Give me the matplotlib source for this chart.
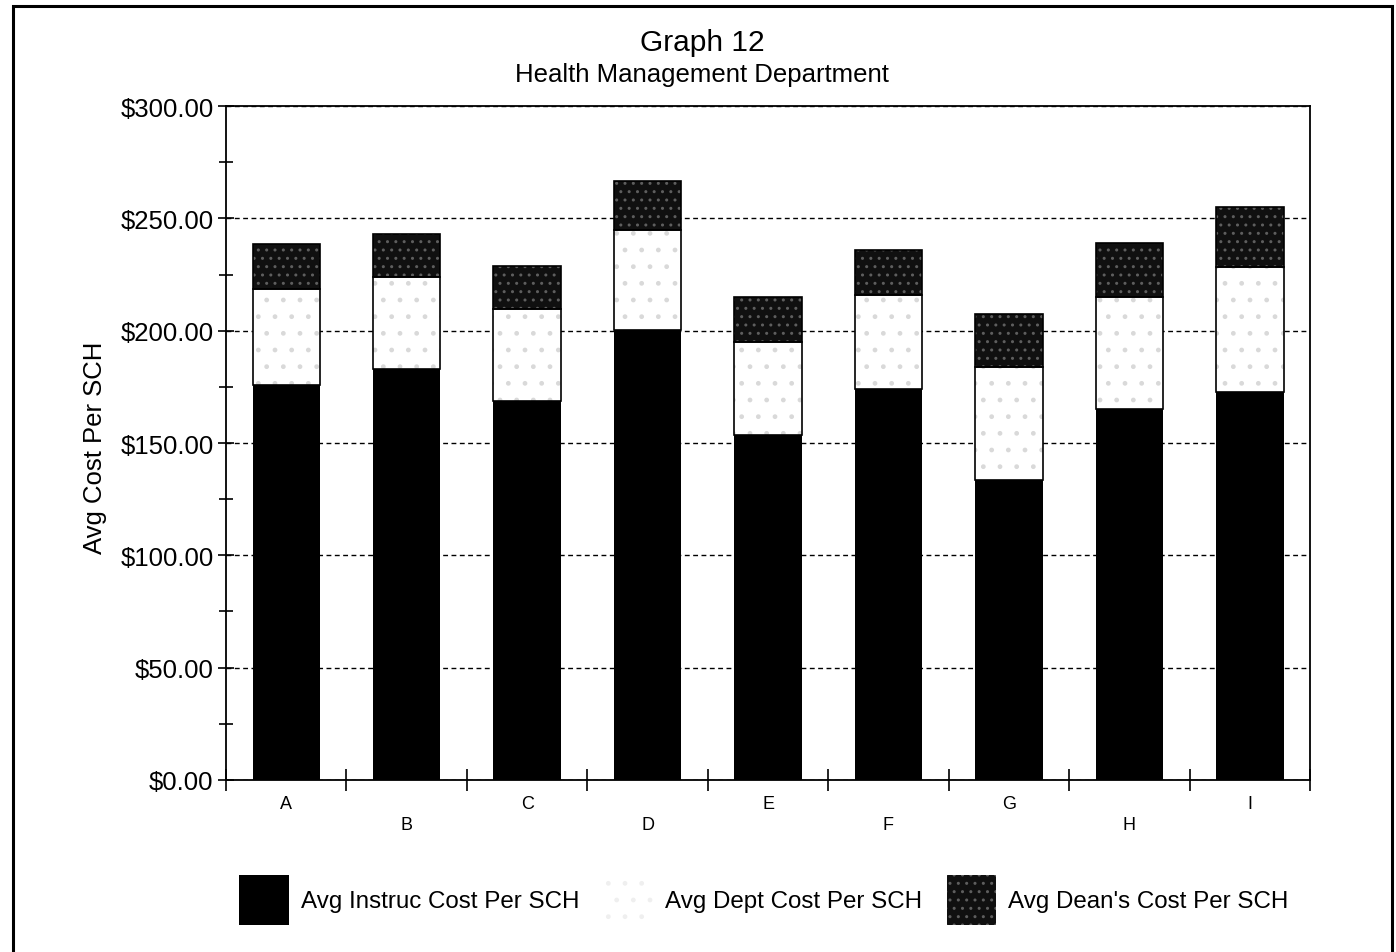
import matplotlib
matplotlib.use("Agg")
import matplotlib.pyplot as plt
import matplotlib.patches as mpatches
from matplotlib.ticker import FuncFormatter, MultipleLocator
import numpy as np

plt.rcParams['font.family'] = ['Liberation Sans', 'DejaVu Sans']
plt.rcParams['hatch.linewidth'] = 1.0

# cost per student credit hour, by unit
units = ['A', 'B', 'C', 'D', 'E', 'F', 'G', 'H', 'I']
instruc_cost = [175.9, 183.1, 168.5, 200.3, 153.6, 174.0, 133.5, 165.1, 172.5]
dept_cost = [42.5, 40.9, 41.1, 44.7, 41.3, 41.9, 50.3, 49.9, 55.8]
dean_cost = [20.3, 18.9, 19.2, 21.6, 20.1, 20.2, 23.7, 24.0, 26.7]
series_names = ['Avg Instruc Cost Per SCH', 'Avg Dept Cost Per SCH', "Avg Dean's Cost Per SCH"]

x = np.arange(len(units))
instruc = np.array(instruc_cost)
dept = np.array(dept_cost)
dean = np.array(dean_cost)
w = 0.56

fig = plt.figure(figsize=(13.96, 9.53), dpi=100)
ax = fig.add_axes([0.1619, 0.1805, 0.7765, 0.7072])

ax.bar(x, instruc, width=w, color='black', linewidth=0, zorder=2)
# faint stipple for the department share
ax.bar(x, dept, width=w, bottom=instruc, facecolor='white', edgecolor='#d9d9d9',
       hatch='.', linewidth=0, zorder=2)
ax.bar(x, dept, width=w, bottom=instruc, fill=False, edgecolor='black', linewidth=1.2, zorder=3)
# dark speckled dean's share
ax.bar(x, dean, width=w, bottom=instruc + dept, facecolor='#101010', edgecolor='#5e5e5e',
       hatch='..', linewidth=0, zorder=2)
ax.bar(x, dean, width=w, bottom=instruc + dept, fill=False, edgecolor='black', linewidth=1.2, zorder=3)

ax.set_xlim(-0.5, 8.5)
ax.set_ylim(0, 300)

ax.yaxis.set_major_locator(MultipleLocator(50))
ax.yaxis.set_minor_locator(MultipleLocator(25))
ax.yaxis.set_major_formatter(FuncFormatter(lambda v, p: '${:.2f}'.format(v)))
ax.tick_params(axis='y', which='major', direction='inout', length=12, width=1.2,
               labelsize=18.5, pad=3)
ax.tick_params(axis='y', which='minor', direction='inout', length=10, width=1.2)

# boundary ticks between units, labels staggered on two rows
ax.set_xticks(np.arange(-0.5, 9.0, 1.0))
ax.set_xticklabels([])
ax.set_xticks(x, minor=True)
ax.set_xticklabels([u if i % 2 == 0 else '\n' + u for i, u in enumerate(units)], minor=True,
                   linespacing=1.25)
ax.tick_params(axis='x', which='major', direction='inout', length=16, width=1.2)
ax.tick_params(axis='x', which='minor', length=0, labelsize=13, pad=11)

ax.yaxis.grid(True, which='major', linestyle=(0, (3.5, 2.5)), color='black', linewidth=1.0)
ax.set_axisbelow(True)
for s in ax.spines.values():
    s.set_linewidth(1.3)

ax.set_ylabel('Avg Cost Per SCH', fontsize=18.5)
ax.yaxis.set_label_coords(-0.11, 0.495)

fig.text(702 / 1396, 1 - 43 / 953, 'Graph 12', ha='center', va='center', fontsize=21.5)
fig.text(702 / 1396, 1 - 75 / 953, 'Health Management Department', ha='center', va='center',
         fontsize=18.5)

handles = [
    mpatches.Patch(facecolor='black', linewidth=0),
    mpatches.Patch(facecolor='white', edgecolor='#efefef', hatch='.', linewidth=0),
    mpatches.Patch(facecolor='#101010', edgecolor='#5e5e5e', hatch='..', linewidth=0),
]
fig.legend(handles, series_names, loc='center', bbox_to_anchor=(764 / 1396, 1 - 901 / 953),
           ncol=3, frameon=False, fontsize=17.4, handlelength=2.05, handleheight=2.85,
           handletextpad=0.5, columnspacing=1.0)

# outer border of the page
fig.add_artist(mpatches.Rectangle((13 / 1396, -0.05), 1379 / 1396, 1.05 - 7 / 953,
                                  transform=fig.transFigure, fill=False,
                                  edgecolor='black', linewidth=2.2))

fig.savefig('out.png', dpi=100, facecolor='white')
